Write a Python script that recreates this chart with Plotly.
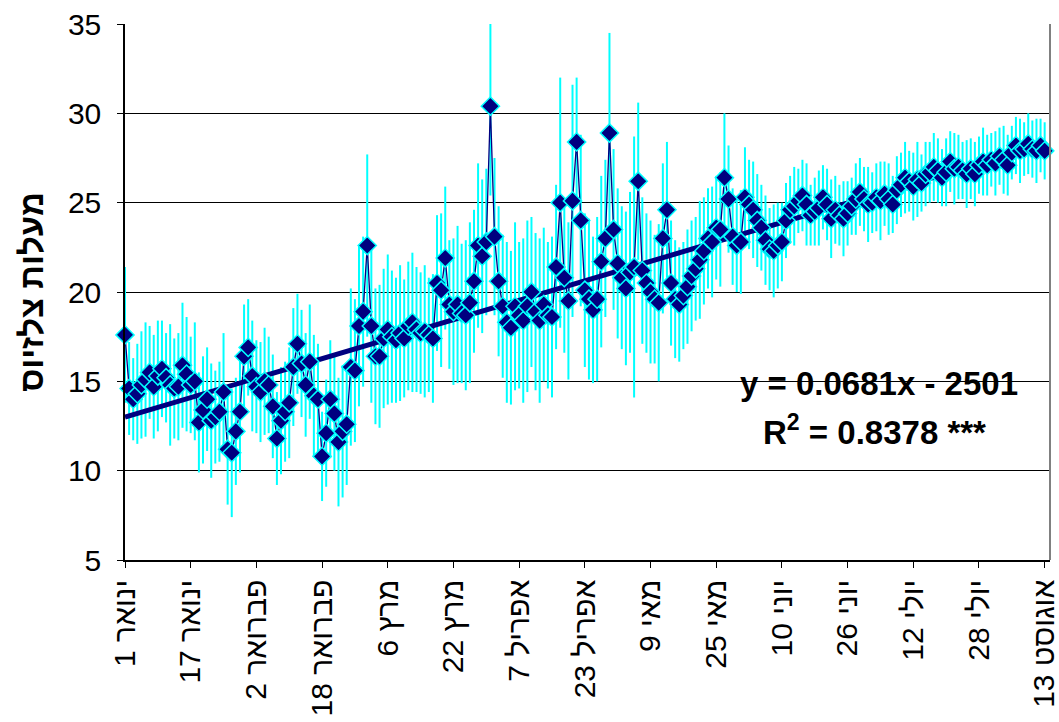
import plotly.graph_objects as go

# Day index from 1 January (day 0) to 13 August (day 224)
temps = [
    17.6, 14.6, 14.0, 14.3, 14.8, 15.1, 15.5, 14.7, 15.3, 15.7, 15.2, 14.8, 14.6, 14.7, 15.9, 15.4, 14.8, 15.0,
    12.7, 13.4, 14.0, 12.8, 13.0, 13.3, 14.4, 11.2, 11.0, 12.2, 13.3, 16.4, 16.9, 15.3, 14.7, 14.4, 15.0, 14.8,
    13.6, 11.8, 12.8, 13.3, 13.8, 15.8, 17.1, 16.0, 14.8, 16.1, 14.2, 14.0, 10.8, 12.1, 14.0, 13.2, 11.6, 12.2, 12.6,
    15.8, 15.6, 18.1, 18.9, 22.6, 18.1, 16.4, 16.4, 17.4, 17.9, 17.5, 17.3, 17.7, 17.4, 18.1, 18.3, 17.9, 17.7, 17.8, 17.6, 17.4,
    20.5, 20.1, 21.9, 19.3, 18.9, 19.3, 18.8, 18.7, 19.4, 20.6, 22.6, 22.0, 22.8, 30.4, 23.1, 20.6, 19.2, 18.3, 18.0, 19.2,
    18.7, 18.4, 19.2, 20.0, 18.9, 18.4, 19.3, 18.7, 18.6,
    21.4, 25.0, 20.8, 19.5, 25.1, 28.4, 24.0, 20.1, 19.6, 19.0, 19.6, 21.7, 23.0, 28.9, 23.5, 21.6, 20.8, 20.2, 21.1,
    21.4, 26.2, 21.2, 20.5, 20.0, 19.6, 19.4, 23.0, 24.6, 20.5, 19.6, 19.3,
    19.8, 20.3, 20.9, 21.3, 21.8, 22.3, 23.0, 22.8, 23.6, 23.5, 26.4, 25.2, 23.1, 22.6, 22.8, 25.3, 24.9, 24.6, 24.0,
    23.6, 22.9, 22.4, 22.3, 22.6, 22.8,
    24.0, 24.6, 24.8, 25.1, 25.4, 24.9, 24.3, 24.5, 24.7, 25.3, 24.9, 24.1, 24.6, 24.3, 24.1, 24.4, 24.8, 25.2, 25.6,
    25.2, 24.9, 25.0, 25.3, 25.1, 25.5, 25.2, 24.9, 25.7, 26.0, 26.4, 26.2, 25.9, 26.3, 26.1, 26.6, 26.7, 27.0, 26.8,
    26.4, 26.7, 27.3, 26.9, 27.0, 26.8, 26.6, 26.9, 26.6, 27.1, 27.3, 27.1, 27.4, 27.2, 27.6, 27.4, 27.1, 27.8, 28.2,
    27.9, 28.0, 28.3, 28.0, 27.9, 28.2, 27.9,
]

errors = [
    3.8, 2.6, 2.3, 2.8, 3.0, 3.2, 2.6, 2.9, 3.1, 2.7, 2.5, 3.4, 2.8, 3.0, 3.5, 3.2, 2.7, 3.3,
    2.8, 3.0, 2.9, 3.2, 2.6, 2.8, 3.3, 3.1, 3.6, 3.0, 3.4, 2.9, 2.7, 3.1, 2.6, 2.8, 3.0, 2.7,
    2.9, 2.6, 3.0, 2.8, 3.1, 3.3, 2.8, 3.0, 2.9, 3.2, 3.4, 3.1, 2.5, 3.0, 3.3, 3.2, 3.6, 3.7, 3.4,
    4.4, 4.0, 4.5, 4.2, 5.1, 4.3, 3.8, 4.0, 3.9, 4.2, 3.7, 3.5, 3.8, 3.3, 3.6, 3.9, 3.5, 3.4, 3.7, 3.2, 3.6,
    3.8, 4.3, 4.0, 3.6, 4.1, 4.4, 3.9, 4.2, 4.5, 4.0, 4.6, 4.3, 4.1, 5.0, 4.4, 4.2, 4.0, 4.5, 4.3, 4.7,
    4.1, 4.6, 4.8, 4.2, 4.4, 4.6, 4.3, 4.1, 4.5,
    4.6, 7.0, 4.2, 4.4, 6.5, 3.6, 4.8, 4.3, 4.5, 4.1, 4.6, 4.8, 4.4, 5.6, 4.5, 4.2, 4.0, 4.3, 4.5,
    7.3, 4.4, 4.1, 3.9, 4.0, 3.6, 4.4, 4.2, 3.8, 3.5, 3.3, 3.2,
    3.0, 3.2, 3.1, 2.9, 3.3, 3.0, 2.8, 3.1, 2.9, 3.2, 3.6, 3.0, 2.7, 2.6, 2.9, 2.8, 2.5, 2.7, 2.6,
    2.4, 2.5, 2.3, 2.6, 2.4, 2.2,
    2.1, 1.9, 2.2, 1.8, 2.0, 2.3, 1.7, 1.9, 2.1, 1.8, 2.0, 2.2, 1.9, 1.7, 2.1, 1.8, 1.6, 2.0, 1.9,
    1.8, 2.1, 1.7, 1.9, 2.2, 1.8, 2.0, 1.6, 1.9, 1.8, 2.0, 1.7, 1.9, 2.1, 1.6, 1.8, 1.7, 1.9, 1.8,
    1.6, 1.9, 1.7, 2.0, 1.8, 1.6, 1.9, 1.7, 1.8, 1.6, 1.9, 1.7, 1.5, 1.8, 1.6, 1.9, 1.7, 1.5, 1.6,
    1.8, 1.5, 1.7, 1.6, 1.8, 1.5, 1.6,
]

days = list(range(len(temps)))

tick_days = [0, 16, 32, 48, 64, 80, 96, 112, 128, 144, 160, 176, 192, 208, 224]
tick_labels = [
    "1 ינואר", "17 ינואר", "2 פברואר", "18 פברואר", "6 מרץ", "22 מרץ", "7 אפריל", "23 אפריל",
    "9 מאי", "25 מאי", "10 יוני", "26 יוני", "12 יולי", "28 יולי", "13 אוגוסט",
]
y_ticks = [5, 10, 15, 20, 25, 30, 35]

trend_slope = 0.0681      # per day, from the chart's equation
trend_start = 13.0        # trend value on 1 January
trend_days = [days[0], days[-1]]
trend_vals = [trend_start + trend_slope * d for d in trend_days]

navy = "#000080"
cyan = "#00FFFF"
font = "Liberation Sans, Arial, sans-serif"

fig = go.Figure()

fig.add_trace(go.Scatter(
    x=days, y=temps, mode="markers",
    marker=dict(size=0.1, color="rgba(0,0,0,0)"),
    error_y=dict(type="data", array=errors, visible=True, color=cyan, thickness=2, width=0),
    hoverinfo="skip", showlegend=False, cliponaxis=False,
))

fig.add_trace(go.Scatter(
    x=trend_days, y=trend_vals, mode="lines",
    line=dict(color=navy, width=5), showlegend=False,
))

fig.add_trace(go.Scatter(
    x=days, y=temps, mode="lines+markers",
    line=dict(color=navy, width=1.3),
    marker=dict(symbol="diamond", size=14, color=navy, line=dict(color=cyan, width=1.5)),
    showlegend=False, cliponaxis=False,
))

fig.add_annotation(
    x=0.815, y=0.330, xref="paper", yref="paper", xanchor="center", yanchor="middle",
    text="<b>y = 0.0681x - 2501</b>", showarrow=False,
    font=dict(family=font, size=33, color="black"),
)
fig.add_annotation(
    x=0.81, y=0.243, xref="paper", yref="paper", xanchor="center", yanchor="middle",
    text="<b>R<sup>2</sup> = 0.8378 ***</b>", showarrow=False,
    font=dict(family=font, size=33, color="black"),
)

fig.add_shape(type="line", xref="paper", yref="paper", x0=1, x1=1, y0=0, y1=1,
              line=dict(color="#808080", width=2))

fig.update_layout(
    width=1059, height=722,
    margin=dict(l=125, r=9, t=24, b=162, autoexpand=False),
    paper_bgcolor="white", plot_bgcolor="white",
    font=dict(family=font, size=30, color="black"),
    xaxis=dict(
        range=[0, 225.3], tickmode="array", tickvals=tick_days, ticktext=tick_labels,
        tickangle=-90, showgrid=False, zeroline=False, automargin=False,
        showline=True, linecolor="black", linewidth=1.5,
        ticks="outside", ticklen=6, tickcolor="black",
        ticklabeloverflow="allow",
        tickfont=dict(family=font, size=30, color="black"),
    ),
    yaxis=dict(
        range=[5, 35], tickmode="array", tickvals=y_ticks,
        showgrid=True, gridcolor="black", gridwidth=1, zeroline=False, automargin=False,
        showline=True, linecolor="black", linewidth=1.5,
        ticks="outside", ticklen=6, tickcolor="black",
        ticklabelstandoff=10,
        tickfont=dict(family=font, size=30, color="black"),
        title=dict(text="<b>מעלות צלזיוס</b>", font=dict(family=font, size=33, color="black"), standoff=14),
    ),
)

fig.write_html("out.html")
